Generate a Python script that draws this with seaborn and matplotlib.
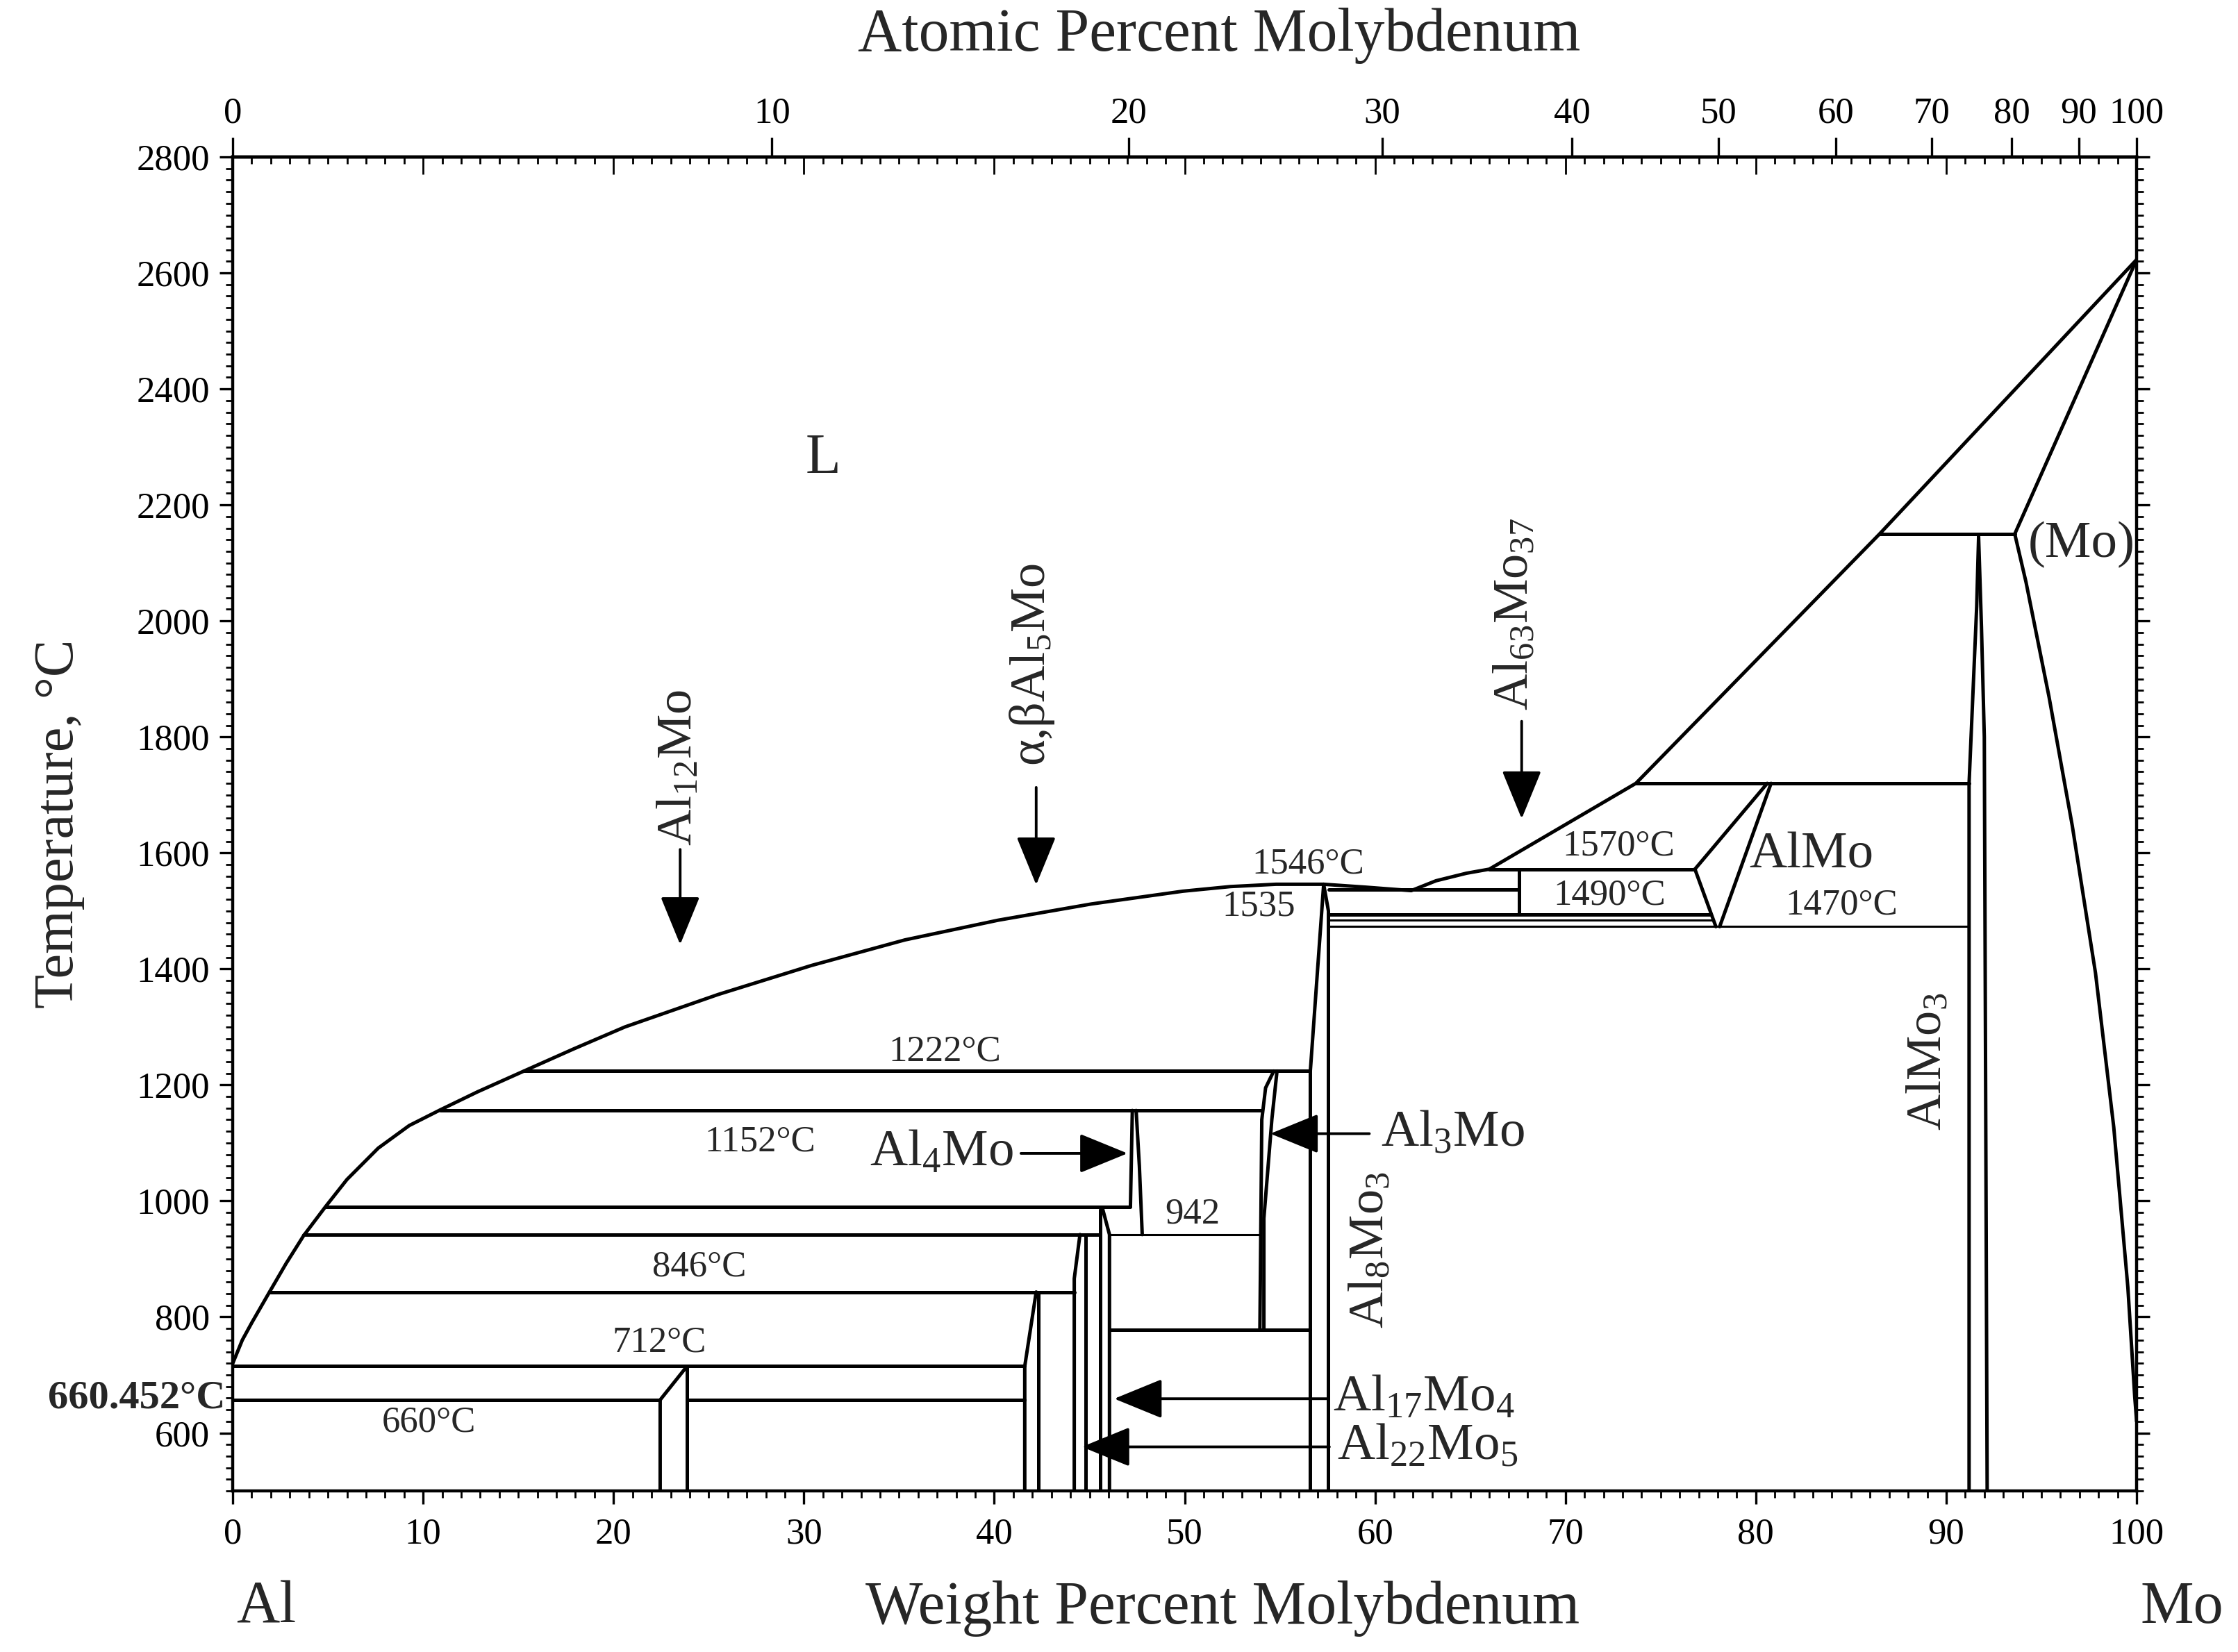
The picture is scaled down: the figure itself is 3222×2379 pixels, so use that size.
import numpy as np
import pandas as pd
import matplotlib
matplotlib.use('Agg')
import matplotlib.pyplot as plt
from matplotlib.ticker import MultipleLocator, FixedLocator, NullFormatter
import seaborn as sns

# Al-Mo phase diagram, points as (wt% Mo, T in C)
liq_left = [(0, 720), (0.5, 760), (1.0, 790), (1.93, 843), (2.8, 892), (3.72, 940),
            (4.87, 990), (6.0, 1037), (7.64, 1091), (9.27, 1130), (10.9, 1157),
            (12.85, 1188), (15.3, 1224), (17.9, 1262), (20.6, 1300), (25.5, 1356),
            (30.4, 1406), (35.3, 1450), (40.2, 1484), (45.1, 1512), (49.9, 1534),
            (52.4, 1542), (54.8, 1546), (57.3, 1546)]
liq_right = [(57.3, 1546), (59.5, 1541), (61.9, 1535), (63.2, 1552), (64.8, 1565),
             (66.0, 1572), (73.7, 1720), (86.5, 2150), (100, 2623)]
solidus_mo = [(93.6, 2150), (100, 2623)]
solvus_mo = [(93.6, 2150), (94.19, 2067), (95.4, 1869), (96.62, 1647), (97.84, 1393),
             (98.8, 1127), (99.54, 851), (99.9, 663), (100, 620)]

# invariant / horizontal lines
h660a = [(0, 657), (22.45, 657)]
h660b = [(23.86, 657), (41.6, 657)]
h712 = [(0, 715), (41.6, 715)]
h846 = [(1.93, 843), (44.2, 843)]
h942a = [(3.72, 942), (45.57, 942)]
h942b = [(46.05, 942), (53.95, 942)]
h990 = [(4.87, 990), (47.15, 990)]
h1152 = [(10.9, 1156), (54.05, 1156)]
h1222 = [(15.3, 1224), (56.6, 1224)]
h778 = [(46.05, 778), (56.6, 778)]
h1535 = [(57.55, 1537), (67.55, 1537)]
h1490 = [(57.55, 1494), (77.65, 1494)]
h1484 = [(57.55, 1484), (77.75, 1484)]
h1470 = [(57.55, 1473), (91.2, 1473)]
h1570 = [(66.0, 1572), (76.8, 1572)]
h1720 = [(73.7, 1720), (91.2, 1720)]
h2150 = [(86.5, 2150), (93.6, 2150)]
v_al63mo37 = [(67.55, 1572), (67.55, 1494)]

# intermetallic phase boundaries
al12mo_l = [(22.45, 500), (22.45, 657), (23.86, 715)]
al12mo_r = [(23.86, 500), (23.86, 715)]
al5mo_l = [(41.6, 500), (41.6, 715), (42.2, 843)]
al5mo_r = [(42.3, 500), (42.3, 843)]
al22mo5_l = [(44.2, 500), (44.2, 866), (44.5, 942)]
al22mo5_r = [(44.8, 500), (44.8, 942)]
al17mo4_l = [(45.57, 500), (45.57, 985)]
al17mo4_r = [(45.7, 985), (46.05, 942), (46.05, 500)]
al4mo_l = [(47.25, 1156), (47.15, 990)]
al4mo_r = [(47.45, 1156), (47.62, 1060), (47.77, 942)]
al3mo_l = [(53.95, 778), (54.05, 1140), (54.25, 1195), (54.68, 1224)]
al3mo_r = [(54.16, 778), (54.16, 970), (54.37, 1055), (54.58, 1141), (54.85, 1224)]
al8mo3_l = [(57.3, 1546), (56.6, 1224), (56.6, 500)]
al8mo3_r = [(57.3, 1546), (57.55, 1500), (57.55, 500)]
almo_lu = [(76.8, 1572), (80.6, 1720)]
almo_ll = [(76.8, 1572), (77.9, 1473)]
almo_r = [(80.8, 1720), (78.1, 1473)]
almo3_l = [(91.2, 500), (91.2, 1720), (91.4, 1873), (91.6, 2025), (91.7, 2145)]
almo3_r = [(92.15, 500), (92.0, 1800), (91.85, 1990), (91.7, 2145)]

thick = {'liq_left': liq_left, 'liq_right': liq_right, 'solidus_mo': solidus_mo,
         'solvus_mo': solvus_mo, 'h660a': h660a, 'h660b': h660b, 'h712': h712,
         'h846': h846, 'h942a': h942a, 'h990': h990, 'h1152': h1152, 'h1222': h1222,
         'h778': h778, 'h1535': h1535, 'h1490': h1490, 'h1570': h1570,
         'h1720': h1720, 'h2150': h2150, 'v_al63mo37': v_al63mo37,
         'al12mo_l': al12mo_l, 'al12mo_r': al12mo_r, 'al5mo_l': al5mo_l,
         'al5mo_r': al5mo_r, 'al22mo5_l': al22mo5_l, 'al22mo5_r': al22mo5_r,
         'al17mo4_l': al17mo4_l, 'al17mo4_r': al17mo4_r, 'al4mo_l': al4mo_l,
         'al4mo_r': al4mo_r, 'al3mo_l': al3mo_l, 'al3mo_r': al3mo_r,
         'al8mo3_l': al8mo3_l, 'al8mo3_r': al8mo3_r, 'almo_lu': almo_lu,
         'almo_ll': almo_ll, 'almo_r': almo_r, 'almo3_l': almo3_l, 'almo3_r': almo3_r}
thin = {'h942b': h942b, 'h1484': h1484, 'h1470': h1470}

# text labels (text, wt%, T)
temp_labels = [('1222°C', 37.4, 1257), ('1152°C', 27.7, 1102), ('942', 50.4, 977),
               ('846°C', 24.5, 886), ('712°C', 22.4, 756), ('660°C', 10.3, 618),
               ('1546°C', 56.5, 1581), ('1535', 53.9, 1507), ('1570°C', 72.8, 1612),
               ('1490°C', 72.3, 1527), ('1470°C', 84.5, 1510)]
phase_labels = [('L', 31.0, 2279, 30), ('AlMo', 82.9, 1596, 27), ('(Mo)', 97.1, 2132, 27)]
rot_labels = [('Al$_{12}$Mo', 23.45, 1747), ('α,βAl$_5$Mo', 42.0, 1925),
              ('Al$_{63}$Mo$_{37}$', 67.4, 2012), ('Al$_8$Mo$_3$', 59.8, 915),
              ('AlMo$_3$', 89.1, 1240)]
# arrows: (tail, head)
arrows = [((23.5, 1606), (23.5, 1442)), ((42.2, 1713), (42.2, 1545)),
          ((67.7, 1827), (67.7, 1659)), ((41.4, 1082), (47.0, 1082)),
          ((59.7, 1116), (54.5, 1116)), ((57.5, 659), (46.3, 659)),
          ((57.6, 576), (44.6, 576))]
side_labels = [('Al$_4$Mo', 41.0, 1082, 'right'), ('Al$_3$Mo', 60.3, 1116, 'left'),
               ('Al$_{17}$Mo$_4$', 57.8, 659, 'left'), ('Al$_{22}$Mo$_5$', 58.0, 576, 'left')]

y_ticks = [600, 800, 1000, 1200, 1400, 1600, 1800, 2000, 2200, 2400, 2600, 2800]
x_ticks = [0, 10, 20, 30, 40, 50, 60, 70, 80, 90, 100]
at_ticks = [0, 10, 20, 30, 40, 50, 60, 70, 80, 90, 100]

M_AL, M_MO = 26.98, 95.95


def wt_to_at(w):
    w = np.clip(np.asarray(w, dtype=float), 0, 100)
    mo = w / M_MO
    al = (100 - w) / M_AL
    return 100 * mo / (mo + al)


def at_to_wt(a):
    a = np.clip(np.asarray(a, dtype=float), 0, 100)
    mo = a * M_MO
    al = (100 - a) * M_AL
    return 100 * mo / (mo + al)


def to_frame(segs):
    rows = []
    for name, pts in segs.items():
        for w, t in pts:
            rows.append({'seg': name, 'wt': w, 'T': t})
    return pd.DataFrame(rows)


sns.set_theme(style='ticks', rc={'axes.edgecolor': 'black', 'xtick.color': 'black',
                                 'ytick.color': 'black'})
plt.rcParams['font.family'] = ['Liberation Serif', 'DejaVu Serif']
plt.rcParams['mathtext.fontset'] = 'custom'
plt.rcParams['mathtext.rm'] = 'Liberation Serif'
plt.rcParams['mathtext.it'] = 'Liberation Serif:italic'
plt.rcParams['mathtext.default'] = 'regular'

fig = plt.figure(figsize=(16.11, 11.895), dpi=200)
ax = fig.add_axes([0.104, 0.0975, 0.8507, 0.8075])

sns.lineplot(data=to_frame(thick), x='wt', y='T', units='seg', estimator=None,
             sort=False, color='black', linewidth=1.8, ax=ax, legend=False)
sns.lineplot(data=to_frame(thin), x='wt', y='T', units='seg', estimator=None,
             sort=False, color='black', linewidth=1.1, ax=ax, legend=False)

ax.set_xlim(0, 100)
ax.set_ylim(500, 2800)
ax.set_xlabel('')
ax.set_ylabel('')
for s in ax.spines.values():
    s.set_linewidth(1.6)

ax.xaxis.set_major_locator(FixedLocator(x_ticks))
ax.xaxis.set_minor_locator(MultipleLocator(1))
ax.yaxis.set_major_locator(FixedLocator(y_ticks))
ax.yaxis.set_minor_locator(MultipleLocator(20))
ax.tick_params(axis='x', which='both', bottom=True, top=False, direction='out')
ax.tick_params(axis='y', which='both', left=True, right=True, direction='out')
ax.tick_params(which='major', length=7, width=1.2, labelsize=19, pad=5)
ax.tick_params(which='minor', length=3.5, width=1.0)
ax.tick_params(axis='x', which='major', pad=7)

# weight percent ticks on the top edge, pointing in
sec_wt = ax.secondary_xaxis('top', functions=(lambda x: x, lambda x: x))
sec_wt.xaxis.set_major_locator(FixedLocator(x_ticks))
sec_wt.xaxis.set_minor_locator(MultipleLocator(1))
sec_wt.xaxis.set_major_formatter(NullFormatter())
sec_wt.tick_params(which='both', direction='in', width=1.0)
sec_wt.tick_params(which='major', length=9)
sec_wt.tick_params(which='minor', length=3.5)

# atomic percent scale
sec_at = ax.secondary_xaxis('top', functions=(wt_to_at, at_to_wt))
sec_at.set_xticks(at_ticks)
sec_at.set_xticklabels([str(v) for v in at_ticks])
sec_at.tick_params(direction='out', length=10, width=1.2, labelsize=19, pad=4)
sec_at.spines['top'].set_linewidth(1.6)

for txt, w, t in temp_labels:
    ax.text(w, t, txt, fontsize=19, ha='center', va='center')
for txt, w, t, fs in phase_labels:
    ax.text(w, t, txt, fontsize=fs, ha='center', va='center')
for txt, w, t in rot_labels:
    ax.text(w, t, txt, fontsize=26, ha='center', va='center', rotation=90)
for txt, w, t, ha in side_labels:
    ax.text(w, t, txt, fontsize=27, ha=ha, va='center')
for tail, head in arrows:
    ax.annotate('', xy=head, xytext=tail,
                arrowprops=dict(arrowstyle='-|>,head_length=1.1,head_width=0.45',
                                color='black', lw=1.4, mutation_scale=20,
                                shrinkA=0, shrinkB=0))

ax.text(-0.004, 660, '660.452°C', fontsize=21, ha='right', va='center',
        fontweight='bold', transform=ax.get_yaxis_transform())
ax.text(51.8, 1.091, 'Atomic Percent Molybdenum', fontsize=31.5, ha='center',
        va='center', transform=ax.get_xaxis_transform())
ax.text(52, -0.088, 'Weight Percent Molybdenum', fontsize=31.5, ha='center',
        va='center', transform=ax.get_xaxis_transform())
ax.text(0.2, -0.088, 'Al', fontsize=31, ha='left', va='center',
        transform=ax.get_xaxis_transform())
ax.text(100.2, -0.088, 'Mo', fontsize=31, ha='left', va='center',
        transform=ax.get_xaxis_transform())
ax.text(-0.091, 0.5, 'Temperature, °C', fontsize=29, ha='center', va='center',
        rotation=90, transform=ax.transAxes)

fig.savefig('out.png', dpi=200, facecolor='white')
